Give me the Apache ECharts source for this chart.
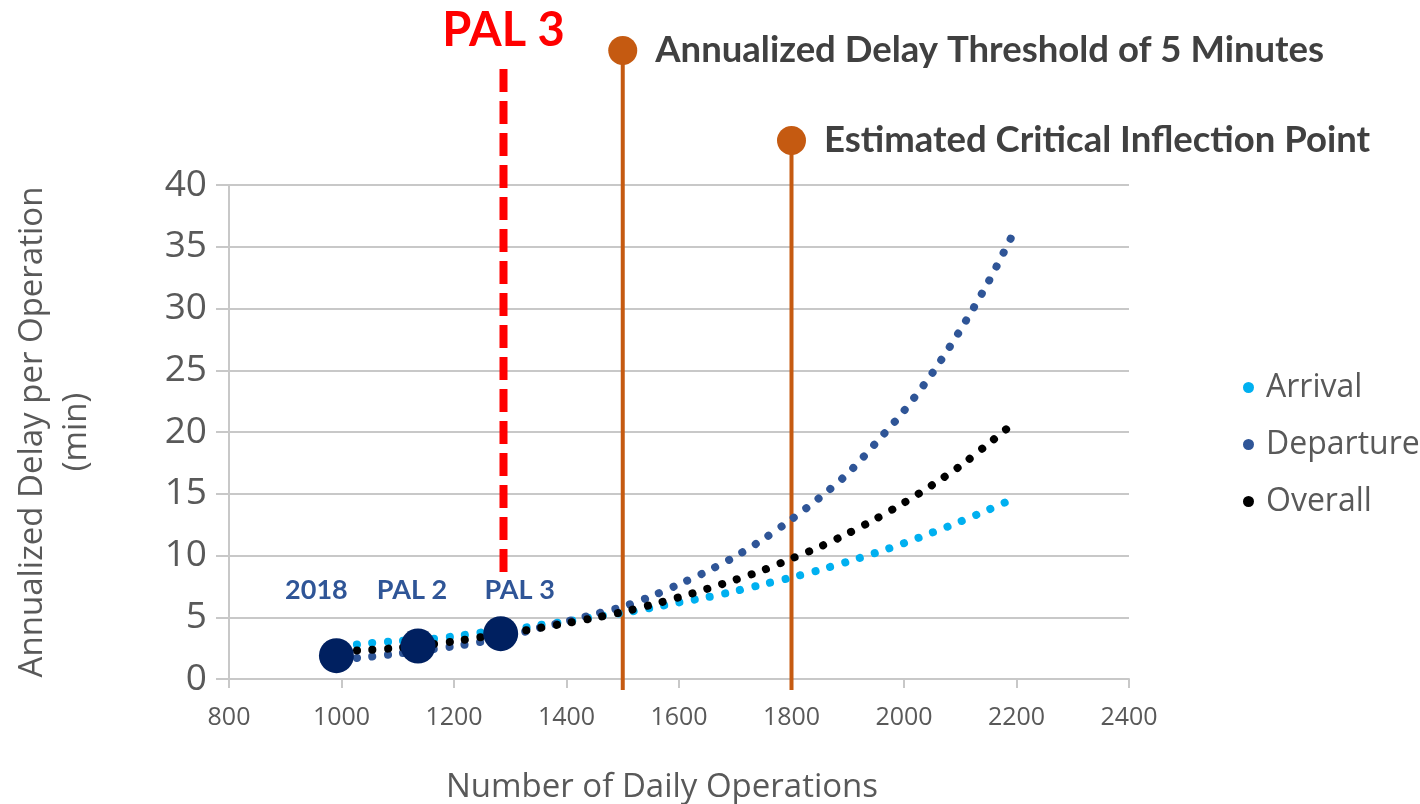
<!DOCTYPE html>
<html>
<head>
<meta charset="utf-8">
<title>Annualized Delay per Operation</title>
<script src="https://cdn.jsdelivr.net/npm/echarts@6/dist/echarts.min.js"></script>
<style>
  html, body { margin: 0; padding: 0; background: #ffffff; }
  #chart { width: 1420px; height: 804px; }
</style>
</head>
<body>
<div id="chart"></div>
<script>
// Daily operations sampled along the trend curves
const operations = [1000, 1050, 1100, 1150, 1200, 1250, 1300, 1350, 1400, 1450, 1500, 1550, 1600,
                    1650, 1700, 1750, 1800, 1850, 1900, 1950, 2000, 2050, 2100, 2150, 2200];

// Annualized delay per operation (min)
const arrivalDelay = [2.65, 2.90, 3.07, 3.20, 3.45, 3.77, 3.95, 4.35, 4.65, 5.05, 5.35, 5.75, 6.20,
                      6.62, 7.12, 7.67, 8.22, 8.83, 9.50, 10.22, 11.00, 11.85, 12.75, 13.70, 14.70];
const departureDelay = [1.60, 1.80, 2.05, 2.35, 2.65, 3.02, 3.50, 4.13, 4.65, 5.25, 5.85, 6.68, 7.67,
                        8.72, 9.92, 11.33, 12.93, 14.68, 16.64, 19.12, 21.72, 24.75, 28.25, 32.15, 36.60];
const overallDelay = [2.25, 2.36, 2.52, 2.75, 3.05, 3.40, 3.72, 4.12, 4.52, 4.95, 5.43, 6.00, 6.62,
                      7.30, 8.03, 8.82, 9.75, 10.70, 11.78, 12.97, 14.27, 15.70, 17.25, 19.05, 20.90];

// Milestone scenarios
const milestoneNames = ['2018', 'PAL 2', 'PAL 3'];
const milestoneOps = [991, 1136, 1283];
const milestoneDelay = [1.89, 2.67, 3.67];

// Reference markers on the operations axis
const pal3Ops = 1288;
const thresholdOps = 1500;
const inflectionOps = 1800;
const thresholdText = 'Annualized Delay Threshold of 5 Minutes';
const inflectionText = 'Estimated Critical Inflection Point';

const seriesNames = ['Arrival', 'Departure', 'Overall'];
const seriesValues = [arrivalDelay, departureDelay, overallDelay];
const seriesColors = ['#00B0F0', '#2F5597', '#000000'];

const pair = (xs, ys) => xs.map((x, i) => [x, ys[i]]);

const axisFont = '"Open Sans", "Noto Sans", sans-serif';
const boldFont = 'Lato, "Open Sans", sans-serif';
const orange = '#C55A11';

const trendSeries = seriesNames.map((name, i) => ({
  name: name,
  type: 'line',
  data: pair(operations, seriesValues[i]),
  smooth: 0.3,
  showSymbol: false,
  symbol: 'circle',
  color: seriesColors[i],
  lineStyle: { color: seriesColors[i], width: 8, type: [0.1, 15.4], cap: 'round' },
  z: 3 + i,
  silent: true
}));

const labelShift = [-20, -6, 19];

const option = {
  animation: false,
  backgroundColor: '#ffffff',
  grid: { left: 229, right: 291, top: 185, bottom: 125, containLabel: false, outerBoundsMode: 'none' },
  legend: {
    data: seriesNames.map(n => ({ name: n, icon: 'circle' })),
    orient: 'vertical',
    left: 1238,
    top: 366,
    itemWidth: 11,
    itemHeight: 11,
    itemGap: 24,
    textStyle: { fontFamily: axisFont, fontSize: 32, color: '#595959', lineHeight: 33, padding: [0, 0, 0, 7] }
  },
  xAxis: {
    type: 'value',
    min: 800,
    max: 2400,
    interval: 200,
    name: 'Number of Daily Operations',
    nameLocation: 'middle',
    nameGap: 92,
    nameTextStyle: { fontFamily: axisFont, fontSize: 33, color: '#595959', padding: [0, 34, 0, 0] },
    axisLine: { show: true, lineStyle: { color: '#C8C8C8', width: 2 } },
    axisTick: { show: true, length: 9, lineStyle: { color: '#C8C8C8', width: 2 } },
    axisLabel: { fontFamily: axisFont, fontSize: 25, color: '#595959', margin: 26, formatter: v => String(v) },
    splitLine: { show: false }
  },
  yAxis: {
    type: 'value',
    min: 0,
    max: 40,
    interval: 5,
    name: 'Annualized Delay per Operation\n(min)',
    nameLocation: 'middle',
    nameRotate: 90,
    nameGap: 130,
    nameTextStyle: { fontFamily: axisFont, fontSize: 33, color: '#595959', lineHeight: 44, align: 'center' },
    axisLine: { show: true, lineStyle: { color: '#C8C8C8', width: 2 } },
    axisTick: { show: true, length: 13, lineStyle: { color: '#C8C8C8', width: 2 } },
    axisLabel: { fontFamily: axisFont, fontSize: 37, color: '#595959', margin: 22 },
    splitLine: { show: true, lineStyle: { color: '#C8C8C8', width: 2 } }
  },
  series: [
    // Threshold and inflection markers
    {
      type: 'line',
      data: [[thresholdOps, -0.9], [thresholdOps, 50.9]],
      showSymbol: false,
      clip: false,
      silent: true,
      lineStyle: { color: orange, width: 4 },
      z: 2
    },
    {
      type: 'line',
      data: [[inflectionOps, -0.9], [inflectionOps, 43.6]],
      showSymbol: false,
      clip: false,
      silent: true,
      lineStyle: { color: orange, width: 4 },
      z: 2
    },
    {
      type: 'scatter',
      data: [
        { value: [thresholdOps, 50.9], label: { formatter: thresholdText } },
        { value: [inflectionOps, 43.6], label: { formatter: inflectionText } }
      ],
      symbol: 'circle',
      symbolSize: 29,
      clip: false,
      silent: true,
      itemStyle: { color: orange, opacity: 1 },
      label: {
        show: true,
        position: 'right',
        distance: 18,
        fontFamily: boldFont,
        fontWeight: 'bold',
        fontSize: 36.5,
        color: '#404040'
      },
      z: 6
    },
    // PAL 3 dashed marker
    {
      type: 'line',
      data: [[pal3Ops, 8.66], [pal3Ops, 49.5]],
      showSymbol: false,
      clip: false,
      silent: true,
      lineStyle: { color: '#FF0000', width: 8, type: [23, 9] },
      z: 2
    },
    {
      type: 'scatter',
      data: [[pal3Ops, 49.5]],
      symbolSize: 0,
      clip: false,
      silent: true,
      itemStyle: { opacity: 1 },
      label: {
        show: true,
        position: 'top',
        distance: 13,
        formatter: 'PAL 3',
        fontFamily: boldFont,
        fontWeight: 'bold',
        fontSize: 47,
        color: '#FF0000'
      }
    },
    ...trendSeries,
    // Milestone points
    {
      type: 'scatter',
      data: pair(milestoneOps, milestoneDelay),
      symbol: 'circle',
      symbolSize: 35,
      silent: true,
      itemStyle: { color: '#002060', opacity: 1 },
      z: 10
    },
    {
      type: 'scatter',
      data: milestoneOps.map((x, i) => ({
        value: [x, 7.2],
        label: { formatter: milestoneNames[i], offset: [labelShift[i], 0] }
      })),
      symbolSize: 0,
      silent: true,
      itemStyle: { opacity: 1 },
      label: {
        show: true,
        position: 'inside',
        fontFamily: boldFont,
        fontWeight: 'bold',
        fontSize: 27,
        color: '#2F5597'
      },
      z: 10
    }
  ]
};

const chart = echarts.init(document.getElementById('chart'), null, { renderer: 'canvas' });
chart.setOption(option);
</script>
</body>
</html>
